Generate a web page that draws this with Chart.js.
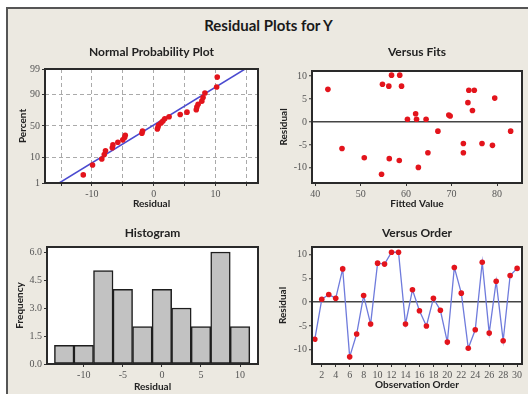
<!DOCTYPE html>
<html>
<head>
<meta charset="utf-8">
<script src="https://cdn.jsdelivr.net/npm/chart.js@4.4.1/dist/chart.umd.min.js"></script>
<style>
html, body { margin: 0; padding: 0; background: #fff; }
body { width: 528px; height: 394px; position: relative; overflow: hidden; }
#frame { position: absolute; left: 6px; top: 7px; width: 560px; height: 420px; background: #ece9e1; border-left: 2px solid #555; border-top: 2px solid #555; }
#mainTitle { position: absolute; left: 0; top: 16px; width: 537px; text-align: center; font: bold 15px Lato, sans-serif; line-height: 18px; color: #1a1a1a; }
canvas { position: absolute; }
</style>
</head>
<body>
<div id="frame"></div>
<div id="mainTitle">Residual Plots for Y</div>
<canvas id="normChart" width="254" height="174" style="left:8px;top:36px"></canvas>
<canvas id="fitsChart" width="262" height="174" style="left:266px;top:36px"></canvas>
<canvas id="histChart" width="256" height="178" style="left:8px;top:216px"></canvas>
<canvas id="orderChart" width="262" height="178" style="left:266px;top:216px"></canvas>
<script>
// residuals, sorted, with their plotted percent (normal probability plot)
var normResid = [-11.4, -9.9, -8.4, -8.0, -7.8, -6.7, -6.6, -5.8, -5.0, -4.7, -4.6, -1.9, -1.8, 0.6, 0.7,
                 0.8, 1.2, 1.5, 1.8, 2.5, 4.3, 5.4, 6.9, 7.0, 7.2, 7.8, 8.0, 8.3, 10.2, 10.3];
var normPct = [2.3, 5.6, 8.9, 12.2, 15.5, 18.8, 22.0, 25.3, 28.6, 31.9, 35.2, 38.5, 41.8, 45.1, 48.4,
               51.6, 54.9, 58.2, 61.5, 64.8, 68.1, 71.4, 74.7, 78.0, 81.3, 84.5, 87.8, 91.1, 94.4, 97.7];
var normLineX = [-15.3, 14.8];
var normLinePct = [1, 99];
var pctTicks = [1, 10, 50, 90, 99];

// versus fits
var fitted = [42.8, 45.9, 50.8, 54.6, 54.8, 56.2, 56.3, 56.8, 58.5, 58.6, 59.0, 60.3, 62.1, 62.3, 62.7,
              64.4, 64.8, 67.0, 69.4, 69.7, 72.6, 72.6, 73.6, 73.8, 74.6, 75.0, 76.7, 79.0, 79.5, 83.0];
var fitResid = [7.1, -5.8, -7.8, -11.4, 8.2, 7.8, -8.0, 10.2, -8.4, 10.2, 7.8, 0.6, 1.8, 0.6, -9.9,
                0.6, -6.7, -2.0, 1.5, 1.3, -4.7, -6.7, 4.2, 6.9, 2.5, 6.9, -4.7, -5.1, 5.2, -2.0];

// histogram
var binCenters = [-12.5, -10, -7.5, -5, -2.5, 0, 2.5, 5, 7.5, 10];
var binCounts = [1, 1, 5, 4, 2, 4, 3, 2, 6, 2];

// versus order
var orderResid = [-7.8, 0.6, 1.6, 0.8, 7.0, -11.5, -6.7, 1.4, -4.6, 8.2, 8.0, 10.5, 10.5, -4.6, 2.6,
                  -1.8, -5.0, 0.8, -1.7, -8.4, 7.3, 1.9, -9.7, -5.8, 8.4, -6.5, 4.4, -8.1, 5.6, 7.1];

// normal quantile for the probability axis
function normCdf(z) {
    var x = Math.abs(z) / Math.SQRT2;
    var t = 1 / (1 + 0.3275911 * x);
    var e = 1 - (((((1.061405429 * t - 1.453152027) * t) + 1.421413741) * t - 0.284496736) * t + 0.254829592) * t * Math.exp(-x * x);
    return z >= 0 ? (1 + e) / 2 : (1 - e) / 2;
}
function probit(pct) {
    var lo = -6, hi = 6;
    for (var i = 0; i < 60; i++) {
        var mid = (lo + hi) / 2;
        if (normCdf(mid) < pct / 100) lo = mid; else hi = mid;
    }
    return (lo + hi) / 2;
}

var tickFont = { family: 'Liberation Serif', size: 10 };
var labelFont = { family: 'Lato', size: 10, weight: 'bold', lineHeight: 1.2 };
var titleFont = { family: 'Lato', size: 12, weight: 'bold', lineHeight: 1.2 };
var red = '#e3141c';

var framePlugin = {
    id: 'frame',
    beforeDraw: function(chart) {
        var a = chart.chartArea, c = chart.ctx;
        c.save();
        c.fillStyle = '#fff';
        c.fillRect(a.left, a.top, a.right - a.left, a.bottom - a.top);
        c.restore();
    },
    afterDatasetsDraw: function(chart) {
        var a = chart.chartArea, c = chart.ctx;
        c.save();
        c.strokeStyle = '#2a2a2a';
        c.lineWidth = 2;
        c.strokeRect(a.left, a.top, a.right - a.left, a.bottom - a.top);
        c.restore();
    }
};

function makeAxis(o) {
    return {
        type: 'linear',
        min: o.min,
        max: o.max,
        offset: false,
        afterBuildTicks: function(s) {
            s.ticks = o.ticks.map(function(v) { return { value: v }; });
        },
        afterFit: function(s) {
            if (s.isHorizontal()) s.height = o.size; else s.width = o.size;
        },
        ticks: { font: tickFont, color: '#555', padding: 2, autoSkip: false, maxRotation: 0, callback: o.fmt },
        grid: {
            offset: false,
            drawOnChartArea: !!o.gridColor,
            color: o.gridColor || '#333',
            lineWidth: o.gridWidth || 1,
            tickColor: '#333',
            tickWidth: 1,
            tickLength: 3
        },
        border: { display: false, dash: o.dash || [] },
        title: { display: true, text: o.title, font: labelFont, color: '#222', padding: o.titlePad }
    };
}

function chartTitle(text, top, bottom) {
    return { display: true, text: text, font: titleFont, color: '#222', fullSize: false, padding: { top: top, bottom: bottom } };
}

function zeroLine(ctx) {
    return ctx.tick && ctx.tick.value === 0 ? '#444' : 'rgba(0,0,0,0)';
}

document.addEventListener('DOMContentLoaded', function() {
    // Normal Probability Plot
    var normPoints = normResid.map(function(r, i) { return { x: r, y: probit(normPct[i]) }; });
    var normLine = normLineX.map(function(r, i) { return { x: r, y: probit(normLinePct[i]) }; });
    var pctZ = pctTicks.map(probit);
    new Chart(document.getElementById('normChart'), {
        type: 'scatter',
        data: {
            datasets: [{
                data: normPoints,
                pointRadius: 2.8,
                pointBackgroundColor: red,
                pointBorderWidth: 0
            }, {
                data: normLine,
                showLine: true,
                borderColor: '#4b4bd0',
                borderWidth: 1.5,
                pointRadius: 0
            }]
        },
        options: {
            responsive: false,
            animation: false,
            layout: { padding: { left: 0, right: 4, top: 0, bottom: 0 } },
            plugins: { legend: { display: false }, tooltip: { enabled: false }, title: chartTitle('Normal Probability Plot', 9, 9.6) },
            scales: {
                x: makeAxis({ min: -17.6, max: 16.9, ticks: [-15, -10, -5, 0, 5, 10, 15], size: 27,
                    fmt: function(v) { return v % 10 === 0 ? String(v) : ''; },
                    title: 'Residual', titlePad: { top: 0, bottom: 0 }, gridColor: '#aaa', dash: [4, 3] }),
                y: makeAxis({ min: probit(1), max: probit(99), ticks: pctZ, size: 37,
                    fmt: function(v, i) { return String(pctTicks[i]); },
                    title: 'Percent', titlePad: { top: 9, bottom: 0 }, gridColor: '#aaa', dash: [4, 3] })
            }
        },
        plugins: [framePlugin]
    });

    // Versus Fits
    new Chart(document.getElementById('fitsChart'), {
        type: 'scatter',
        data: {
            datasets: [{
                data: fitted.map(function(f, i) { return { x: f, y: fitResid[i] }; }),
                pointRadius: 2.8,
                pointBackgroundColor: red,
                pointBorderWidth: 0
            }]
        },
        options: {
            responsive: false,
            animation: false,
            layout: { padding: { left: 0, right: 6, top: 0, bottom: 0 } },
            plugins: { legend: { display: false }, tooltip: { enabled: false }, title: chartTitle('Versus Fits', 8.8, 11.8) },
            scales: {
                x: makeAxis({ min: 39.3, max: 85.5, ticks: [40, 50, 60, 70, 80], size: 27,
                    title: 'Fitted Value', titlePad: { top: 0, bottom: 0 } }),
                y: makeAxis({ min: -13.3, max: 11.1, ticks: [-10, -5, 0, 5, 10], size: 46,
                    title: 'Residual', titlePad: { top: 12, bottom: 0 }, gridColor: zeroLine, gridWidth: 1.5 })
            }
        },
        plugins: [framePlugin]
    });

    // Histogram
    new Chart(document.getElementById('histChart'), {
        type: 'bar',
        data: {
            datasets: [{
                data: binCenters.map(function(c, i) { return { x: c, y: binCounts[i] }; }),
                backgroundColor: '#c2c2c2',
                borderColor: '#1e1e1e',
                borderWidth: 1.5,
                borderSkipped: false,
                barPercentage: 1,
                categoryPercentage: 1
            }]
        },
        options: {
            responsive: false,
            animation: false,
            layout: { padding: { left: 0, right: 6, top: 0, bottom: 0 } },
            plugins: { legend: { display: false }, tooltip: { enabled: false }, title: chartTitle('Histogram', 9.8, 6.8) },
            scales: {
                x: makeAxis({ min: -14.7, max: 12.3, ticks: [-10, -5, 0, 5, 10], size: 30,
                    title: 'Residual', titlePad: { top: 0, bottom: 1 } }),
                y: makeAxis({ min: 0, max: 6.27, ticks: [0, 1.5, 3, 4.5, 6], size: 39,
                    fmt: function(v) { return v.toFixed(1); },
                    title: 'Frequency', titlePad: { top: 6, bottom: 0 } })
            }
        },
        plugins: [framePlugin]
    });

    // Versus Order
    new Chart(document.getElementById('orderChart'), {
        type: 'line',
        data: {
            datasets: [{
                data: orderResid.map(function(r, i) { return { x: i + 1, y: r }; }),
                borderColor: '#6f7bdc',
                borderWidth: 1.3,
                pointRadius: 2.8,
                pointBackgroundColor: red,
                pointBorderWidth: 0,
                tension: 0
            }]
        },
        options: {
            responsive: false,
            animation: false,
            layout: { padding: { left: 0, right: 6, top: 0, bottom: 0 } },
            plugins: { legend: { display: false }, tooltip: { enabled: false }, title: chartTitle('Versus Order', 9.8, 6.8) },
            scales: {
                x: makeAxis({ min: 0.6, max: 30.7, ticks: [2, 4, 6, 8, 10, 12, 14, 16, 18, 20, 22, 24, 26, 28, 30], size: 30,
                    title: 'Observation Order', titlePad: { top: 0, bottom: 3 } }),
                y: makeAxis({ min: -13.0, max: 11.6, ticks: [-10, -5, 0, 5, 10], size: 46,
                    title: 'Residual', titlePad: { top: 11, bottom: 0 }, gridColor: zeroLine, gridWidth: 1.5 })
            }
        },
        plugins: [framePlugin]
    });
});
</script>
</body>
</html>
